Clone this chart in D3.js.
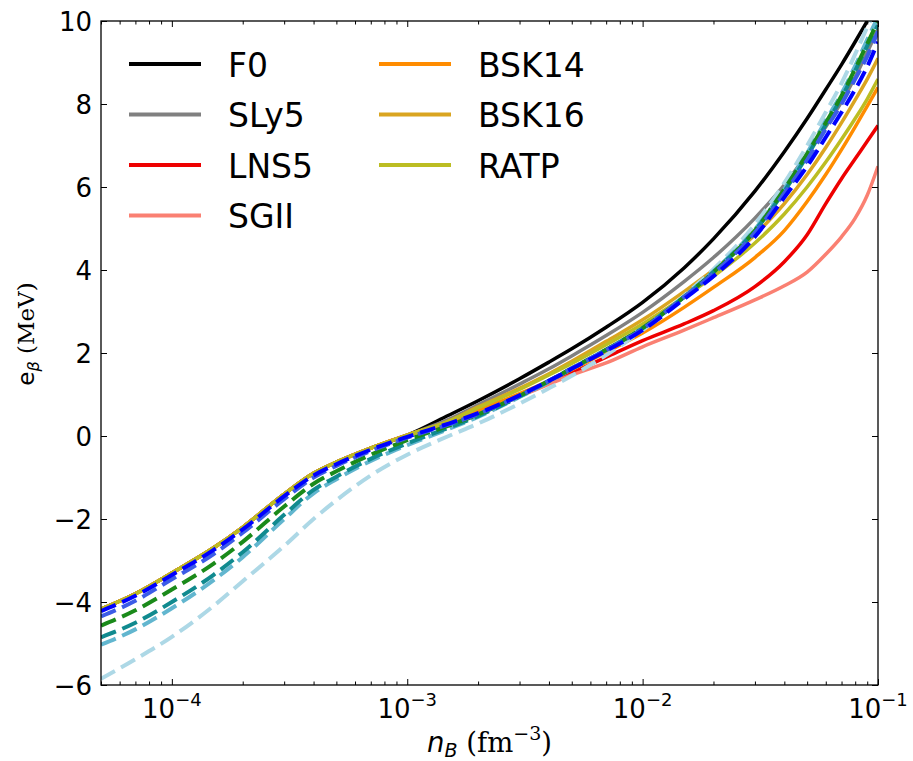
<!DOCTYPE html>
<html>
<head>
<meta charset="utf-8">
<script src="https://cdn.jsdelivr.net/npm/d3@7"></script>
<style>
	body { margin: 0; background: #fff; }
	svg text { font-family: "DejaVu Sans", sans-serif; fill: #000; }
</style>
</head>
<body>
<svg id="chart" width="913" height="761"></svg>
<script>

// baryon density grid (fm^-3)
const DENSITY = [5e-5, 7e-5, 1e-4, 1.5e-4, 2e-4, 3e-4, 4e-4, 5e-4, 7e-4, 1e-3,
	1.5e-3, 2e-3, 3e-3, 4e-3, 5e-3, 7e-3, 1e-2, 1.5e-2, 2e-2, 3e-2, 4e-2, 5e-2, 6e-2, 7e-2, 8e-2, 9e-2, 1e-1];

// solid curves: common low density part (n <= 1e-3), then one array per model (n >= 1.5e-3)
const CRUST = [-4.17, -3.8, -3.3, -2.7, -2.2, -1.4, -0.9, -0.63, -0.29, 0.02];
const F0    = [0.5, 0.85, 1.38, 1.78, 2.1, 2.62, 3.22, 4.05, 4.75, 5.9, 6.85, 7.65, 8.35, 8.95, 9.5, 10.0, 10.45];
const SLY5  = [0.4, 0.75, 1.25, 1.62, 1.93, 2.42, 2.98, 3.72, 4.3, 5.25, 6.05, 6.8, 7.45, 8.05, 8.65, 9.25, 9.8];
const LNS5  = [0.32, 0.58, 0.97, 1.27, 1.52, 1.9, 2.3, 2.7, 3.02, 3.6, 4.2, 4.85, 5.6, 6.2, 6.68, 7.1, 7.48];
const SGII  = [0.3, 0.55, 0.95, 1.25, 1.47, 1.76, 2.15, 2.55, 2.85, 3.28, 3.62, 3.95, 4.38, 4.8, 5.25, 5.8, 6.5];
const BSK14 = [0.33, 0.62, 1.02, 1.33, 1.6, 2.02, 2.48, 3.1, 3.58, 4.3, 4.95, 5.65, 6.3, 6.9, 7.45, 7.95, 8.4];
const BSK16 = [0.36, 0.7, 1.15, 1.5, 1.8, 2.28, 2.8, 3.48, 4.0, 4.85, 5.6, 6.3, 6.95, 7.55, 8.1, 8.6, 9.1];
const RATP  = [0.35, 0.68, 1.12, 1.47, 1.75, 2.2, 2.7, 3.35, 3.85, 4.65, 5.35, 6.0, 6.6, 7.15, 7.65, 8.12, 8.6];

// dashed curves (full grid, not in the legend)
const D_LIGHT = [-5.85, -5.38, -4.84, -4.1, -3.5, -2.65, -2.0, -1.55, -0.95, -0.45, 0.0, 0.3, 0.78, 1.15, 1.45, 1.95, 2.55, 3.38, 4.02, 5.1, 6.1, 7.0, 7.8, 8.5, 9.2, 9.85, 10.4];
const D_SKY   = [-5.03, -4.66, -4.15, -3.48, -2.92, -2.0, -1.38, -1.04, -0.6, -0.22, 0.17, 0.46, 0.94, 1.31, 1.62, 2.08, 2.6, 3.36, 3.97, 4.98, 5.95, 6.82, 7.6, 8.25, 8.92, 9.55, 10.1];
const D_TEAL  = [-4.85, -4.5, -4.0, -3.35, -2.8, -1.9, -1.3, -0.98, -0.55, -0.18, 0.2, 0.48, 0.95, 1.32, 1.62, 2.08, 2.6, 3.35, 3.95, 4.95, 5.9, 6.75, 7.5, 8.15, 8.8, 9.4, 9.9];
const D_GREEN = [-4.57, -4.2, -3.7, -3.08, -2.55, -1.7, -1.15, -0.85, -0.45, -0.1, 0.25, 0.52, 0.97, 1.33, 1.63, 2.08, 2.6, 3.35, 3.95, 4.95, 5.95, 6.8, 7.55, 8.2, 8.85, 9.45, 10.0];
const D_ROYAL = [-4.35, -3.97, -3.45, -2.85, -2.33, -1.52, -1.0, -0.72, -0.36, -0.04, 0.28, 0.53, 0.97, 1.33, 1.63, 2.07, 2.58, 3.35, 3.92, 4.9, 5.85, 6.65, 7.4, 8.0, 8.6, 9.15, 9.75];
const D_BLUE  = [-4.22, -3.85, -3.35, -2.75, -2.25, -1.45, -0.95, -0.68, -0.33, -0.02, 0.3, 0.55, 0.98, 1.33, 1.62, 2.05, 2.55, 3.3, 3.85, 4.8, 5.75, 6.5, 7.2, 7.8, 8.35, 8.9, 9.5];

const SOLID_NAMES = ['F0', 'SLy5', 'LNS5', 'SGII', 'BSK14', 'BSK16', 'RATP'];
const SOLID_VALUES = [F0, SLY5, LNS5, SGII, BSK14, BSK16, RATP];
const SOLID_COLORS = ['#000000', '#808080', '#ee0000', '#fa8072', '#ff8c00', '#daa520', '#bcbd22'];
const DASHED_VALUES = [D_LIGHT, D_SKY, D_TEAL, D_GREEN, D_ROYAL, D_BLUE];
const DASHED_COLORS = ['#add8e6', '#62b6cf', '#108a8f', '#1a8a1a', '#3c5ce6', '#0000ff'];

const X_MAJOR = [1e-4, 1e-3, 1e-2, 1e-1];
const X_EXP = ['\u22124', '\u22123', '\u22122', '\u22121'];
const Y_TICKS = [-6, -4, -2, 0, 2, 4, 6, 8, 10];

const frame = { left: 101, right: 878, top: 21, bottom: 685 };

const svg = d3.select('#chart');
const x = d3.scaleLog().domain([5e-5, 0.1]).range([frame.left, frame.right]);
const y = d3.scaleLinear().domain([-6, 10]).range([frame.bottom, frame.top]);

svg.append('defs').append('clipPath').attr('id', 'clip')
	.append('rect').attr('x', frame.left).attr('y', frame.top)
	.attr('width', frame.right - frame.left).attr('height', frame.bottom - frame.top);

const line = d3.line()
	.x((d, i) => x(DENSITY[i]))
	.y(d => y(d))
	.curve(d3.curveMonotoneX);

const plot = svg.append('g').attr('clip-path', 'url(#clip)');

// solid models first, dashed ones drawn on top
SOLID_VALUES.forEach((vals, k) => {
	plot.append('path')
		.attr('d', line(CRUST.concat(vals)))
		.attr('fill', 'none')
		.attr('stroke', SOLID_COLORS[k])
		.attr('stroke-width', 3.5);
});
DASHED_VALUES.forEach((vals, k) => {
	plot.append('path')
		.attr('d', line(vals))
		.attr('fill', 'none')
		.attr('stroke', DASHED_COLORS[k])
		.attr('stroke-width', 4)
		.attr('stroke-dasharray', '16,7');
});

// axes, ticks pointing inward on all sides
const isMajor = v => Math.abs(Math.log10(v) - Math.round(Math.log10(v))) < 1e-6;
const xMinor = x.ticks().filter(v => !isMajor(v));

svg.append('g').attr('transform', `translate(0,${frame.bottom})`)
	.call(d3.axisBottom(x).tickValues(X_MAJOR).tickSize(-6).tickFormat(''));
svg.append('g').attr('transform', `translate(0,${frame.bottom})`)
	.call(d3.axisBottom(x).tickValues(xMinor).tickSize(-3.5).tickFormat(''));
svg.append('g').attr('transform', `translate(0,${frame.top})`)
	.call(d3.axisTop(x).tickValues(X_MAJOR).tickSize(-6).tickFormat(''));
svg.append('g').attr('transform', `translate(0,${frame.top})`)
	.call(d3.axisTop(x).tickValues(xMinor).tickSize(-3.5).tickFormat(''));
svg.append('g').attr('transform', `translate(${frame.left},0)`)
	.call(d3.axisLeft(y).tickValues(Y_TICKS).tickSize(-6).tickFormat(''));
svg.append('g').attr('transform', `translate(${frame.right},0)`)
	.call(d3.axisRight(y).tickValues(Y_TICKS).tickSize(-6).tickFormat(''));
svg.selectAll('.domain').remove();
svg.selectAll('.tick line').attr('stroke', '#000').attr('stroke-width', 1);

svg.append('rect')
	.attr('x', frame.left).attr('y', frame.top)
	.attr('width', frame.right - frame.left).attr('height', frame.bottom - frame.top)
	.attr('fill', 'none').attr('stroke', '#000').attr('stroke-width', 1.3);

// tick labels
X_MAJOR.forEach((v, i) => {
	const t = svg.append('text')
		.attr('x', x(v)).attr('y', 718)
		.attr('text-anchor', 'middle')
		.attr('font-size', 26);
	t.append('tspan').text('10');
	t.append('tspan').attr('dy', -12).attr('font-size', 18).text(X_EXP[i]);
});
Y_TICKS.forEach(v => {
	svg.append('text')
		.attr('x', 92).attr('y', y(v) + 9.5)
		.attr('text-anchor', 'end')
		.attr('font-size', 26)
		.text(v < 0 ? '\u2212' + Math.abs(v) : String(v));
});

// axis titles
const xl = svg.append('text')
	.attr('x', (frame.left + frame.right) / 2).attr('y', 752)
	.attr('text-anchor', 'middle')
	.attr('font-size', 27.5);
xl.append('tspan').attr('font-style', 'italic').text('n');
xl.append('tspan').attr('font-style', 'italic').attr('font-size', 19).attr('dy', 5).text('B');
xl.append('tspan').attr('font-family', 'DejaVu Serif').attr('dy', -5).text(' (fm');
xl.append('tspan').attr('font-family', 'DejaVu Serif').attr('font-size', 19).attr('dy', -12).text('\u22123');
xl.append('tspan').attr('font-family', 'DejaVu Serif').attr('dy', 12).text(')');

const yl = svg.append('text')
	.attr('transform', 'translate(34,334) rotate(-90)')
	.attr('text-anchor', 'middle')
	.attr('font-size', 23);
yl.append('tspan').text('e');
yl.append('tspan').attr('font-style', 'italic').attr('font-size', 16).attr('dy', 5).text('\u03b2');
yl.append('tspan').attr('font-family', 'DejaVu Serif').attr('dy', -5).text(' (MeV)');

// legend, two columns
const LEG_X = [129, 379];
const LEG_ROWS = 4;
SOLID_NAMES.forEach((name, k) => {
	const col = Math.floor(k / LEG_ROWS), row = k % LEG_ROWS;
	const ly = 64 + row * 50.5;
	svg.append('line')
		.attr('x1', LEG_X[col]).attr('x2', LEG_X[col] + 72)
		.attr('y1', ly).attr('y2', ly)
		.attr('stroke', SOLID_COLORS[k]).attr('stroke-width', 4);
	svg.append('text')
		.attr('x', LEG_X[col] + 99).attr('y', ly + 12.5)
		.attr('font-size', 33)
		.text(name);
});

</script>
</body>
</html>
